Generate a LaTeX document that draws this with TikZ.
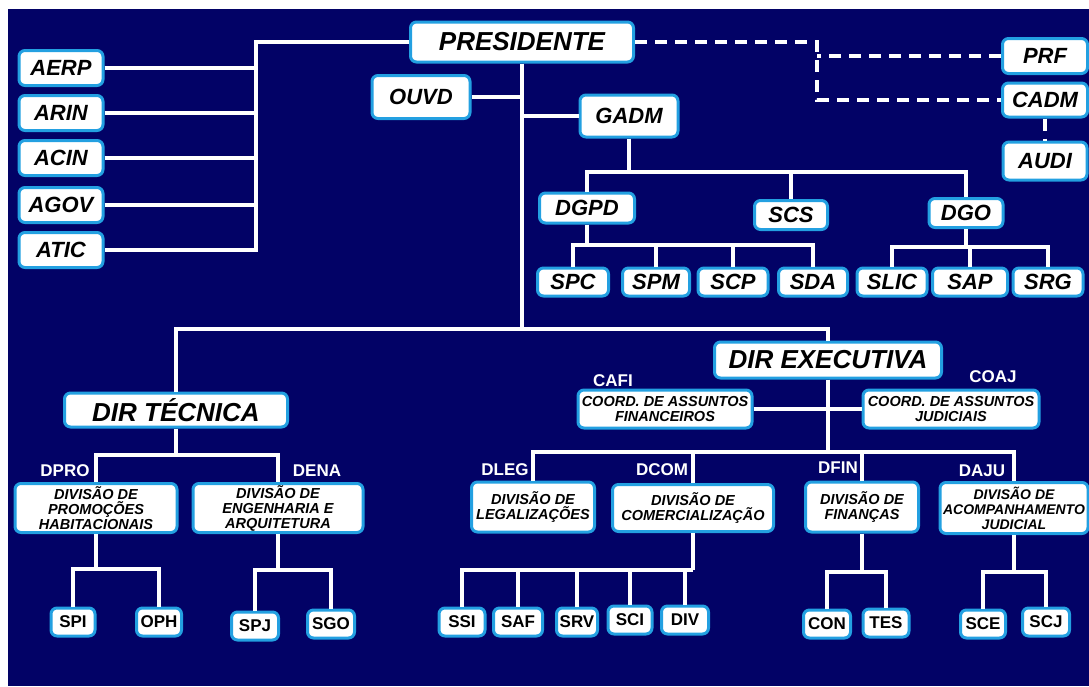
\documentclass[tikz,border=0pt]{standalone}
\usepackage{fontspec}
\setmainfont{Liberation Sans}
\definecolor{navy}{RGB}{2,2,102}
\definecolor{boxblue}{RGB}{35,160,225}

\begin{document}
\begin{tikzpicture}[x=1pt,y=-1pt,
  orgbox/.style={draw=boxblue,line width=3pt,fill=white,rounded corners=6pt,inner sep=0pt,
    text=black,font=\fontsize{22}{24}\selectfont\bfseries\itshape},
  bigbox/.style={orgbox,font=\fontsize{26}{28}\selectfont\bfseries\itshape},
  divbox/.style={orgbox,align=center,font=\fontsize{14.5}{15}\selectfont\bfseries\itshape},
  secbox/.style={orgbox,font=\fontsize{17}{18}\selectfont\bfseries},
  tagtext/.style={text=white,inner sep=0pt,font=\fontsize{17}{18}\selectfont\bfseries},
  orgline/.style={draw=white,line width=3.2pt},
  dashline/.style={orgline,dash pattern=on 12pt off 8pt}]
  \useasboundingbox (0,0) rectangle (1089,686);
  \fill[navy] (8,9) rectangle (1089,686);

  % Presidente and advisors
  \node[bigbox,minimum width=223pt,minimum height=40pt] (pres) at (522,42) {PRESIDENTE};
  \foreach \n/\t/\y in {aerp/AERP/68, arin/ARIN/113, acin/ACIN/158, agov/AGOV/205, atic/ATIC/250}
    \node[orgbox,minimum width=84pt,minimum height=35pt] (\n) at (61,\y) {\t};
  \node[orgbox,minimum width=98pt,minimum height=43pt] (ouvd) at (421,97) {OUVD};
  \node[orgbox,minimum width=98pt,minimum height=42pt] (gadm) at (629,116) {GADM};

  % Conselhos (right)
  \node[orgbox,minimum width=85pt,minimum height=35pt] (prf) at (1045,56) {PRF};
  \node[orgbox,minimum width=85pt,minimum height=34pt] (cadm) at (1045,100) {CADM};
  \node[orgbox,minimum width=84pt,minimum height=38pt] (audi) at (1045,161) {AUDI};

  % Gabinete
  \node[orgbox,minimum width=95pt,minimum height=30pt] (dgpd) at (587,208) {DGPD};
  \node[orgbox,minimum width=73pt,minimum height=29pt] (scs) at (791,215) {SCS};
  \node[orgbox,minimum width=74pt,minimum height=29pt] (dgo) at (966,213) {DGO};
  \foreach \n/\t/\x/\w in {spc/SPC/573/71, spm/SPM/656/67, scp/SCP/733/70, sda/SDA/813/69,
      slic/SLIC/892/70, sap/SAP/970/75, srg/SRG/1048/70}
    \node[orgbox,minimum width=\w pt,minimum height=28pt] (\n) at (\x,282) {\t};

  % Diretorias
  \node[bigbox,minimum width=223pt,minimum height=34pt] (dirtec) at (176,410) {DIR TÉCNICA};
  \node[bigbox,minimum width=227pt,minimum height=36pt] (direx) at (828,360) {DIR EXECUTIVA};
  \node[divbox,minimum width=174pt,minimum height=38pt] (cafi) at (665,409) {COORD. DE ASSUNTOS\\FINANCEIROS};
  \node[divbox,minimum width=176pt,minimum height=38pt] (coaj) at (951,409) {COORD. DE ASSUNTOS\\JUDICIAIS};
  \node[tagtext] at (613,381) {CAFI};
  \node[tagtext] at (993,377) {COAJ};

  % Divisoes
  \node[divbox,minimum width=162pt,minimum height=49pt] (dpro) at (96,508) {DIVISÃO DE\\PROMOÇÕES\\HABITACIONAIS};
  \node[divbox,minimum width=170pt,minimum height=49pt] (dena) at (278,508) {DIVISÃO DE\\ENGENHARIA E\\ARQUITETURA};
  \node[divbox,minimum width=123pt,minimum height=50pt] (dleg) at (533,507) {DIVISÃO DE\\LEGALIZAÇÕES};
  \node[divbox,minimum width=161pt,minimum height=47pt] (dcom) at (693,508) {DIVISÃO DE\\COMERCIALIZAÇÃO};
  \node[divbox,minimum width=113pt,minimum height=50pt] (dfin) at (862,507) {DIVISÃO DE\\FINANÇAS};
  \node[divbox,minimum width=148pt,minimum height=51pt,font=\fontsize{14}{15}\selectfont\bfseries\itshape] (daju) at (1014,508) {DIVISÃO DE\\ACOMPANHAMENTO\\JUDICIAL};
  \foreach \t/\x/\y in {DPRO/65/471, DENA/317/471, DLEG/505/470, DCOM/662/470, DFIN/838/468, DAJU/982/471}
    \node[tagtext] at (\x,\y) {\t};

  % Secoes
  \foreach \n/\t/\x/\y/\w in {spi/SPI/73/622/44, oph/OPH/159/622/45, spj/SPJ/255/626/47, sgo/SGO/331/624/47,
      ssi/SSI/462/622/46, saf/SAF/518/622/49, srv/SRV/577/622/41, sci/SCI/630/620/44, div/DIV/685/620/47,
      con/CON/827/624/47, tes/TES/886/623/46, sce/SCE/983/624/45, scj/SCJ/1046/622/47}
    \node[secbox,minimum width=\w pt,minimum height=28pt] (\n) at (\x,\y) {\t};

  % Lines
  \coordinate (busL) at (256,42);
  \draw[orgline] (pres.west) -- (busL) |- (atic.east);
  \foreach \n in {aerp,arin,acin,agov}
    \draw[orgline] (\n.east) -- (\n.east -| busL);
  \coordinate (hub) at (522,329);
  \draw[orgline] (pres.south) -- (hub);
  \draw[orgline] (ouvd.east) -- (ouvd.east -| hub);
  \draw[orgline] (gadm.west) -- (gadm.west -| hub);
  \draw[orgline] (dirtec.north) |- (hub) -| (direx.north);

  % dashed links
  \coordinate (dtop) at (817,42);
  \draw[dashline] (pres.east) -- (dtop) |- (cadm.west);
  \draw[dashline] (prf.west) -- (prf.west -| dtop);
  \draw[dashline] (cadm.south) -- (audi.north);

  \coordinate (gbus) at (629,172);
  \draw[orgline] (gadm.south) -- (gbus);
  \draw[orgline] (dgpd.north) |- (gbus) -| (dgo.north);
  \draw[orgline] (scs.north) -- (scs.north |- gbus);
  \coordinate (dgbus) at (587,245);
  \draw[orgline] (dgpd.south) -- (dgbus);
  \draw[orgline] (spc.north) |- (dgbus) -| (sda.north);
  \foreach \n in {spm,scp}
    \draw[orgline] (\n.north) -- (\n.north |- dgbus);
  \coordinate (dobus) at (966,247);
  \draw[orgline] (dgo.south) -- (dobus);
  \draw[orgline] (slic.north) |- (dobus) -| (srg.north);
  \draw[orgline] (sap.north) -- (sap.north |- dobus);

  \coordinate (dtbus) at (176,455);
  \draw[orgline] (dirtec.south) -- (dtbus);
  \draw[orgline] (dpro.north) |- (dtbus) -| (dena.north);
  \coordinate (dpbus) at (96,569);
  \draw[orgline] (dpro.south) -- (dpbus);
  \draw[orgline] (spi.north) |- (dpbus) -| (oph.north);
  \coordinate (debus) at (278,570);
  \draw[orgline] (dena.south) -- (debus);
  \draw[orgline] (spj.north) |- (debus) -| (sgo.north);

  \coordinate (exbus) at (828,452);
  \draw[orgline] (direx.south) -- (exbus);
  \draw[orgline] (cafi.east) -- (coaj.west);
  \draw[orgline] (dleg.north) |- (exbus) -| (daju.north);
  \foreach \n in {dcom,dfin}
    \draw[orgline] (\n.north) -- (\n.north |- exbus);
  \coordinate (dcbus) at (693,570);
  \draw[orgline] (dcom.south) -- (dcbus);
  \draw[orgline] (ssi.north) |- (dcbus);
  \foreach \n in {saf,srv,sci,div}
    \draw[orgline] (\n.north) -- (\n.north |- dcbus);
  \coordinate (dfbus) at (862,572);
  \draw[orgline] (dfin.south) -- (dfbus);
  \draw[orgline] (con.north) |- (dfbus) -| (tes.north);
  \coordinate (dabus) at (1014,572);
  \draw[orgline] (daju.south) -- (dabus);
  \draw[orgline] (sce.north) |- (dabus) -| (scj.north);
\end{tikzpicture}
\end{document}
